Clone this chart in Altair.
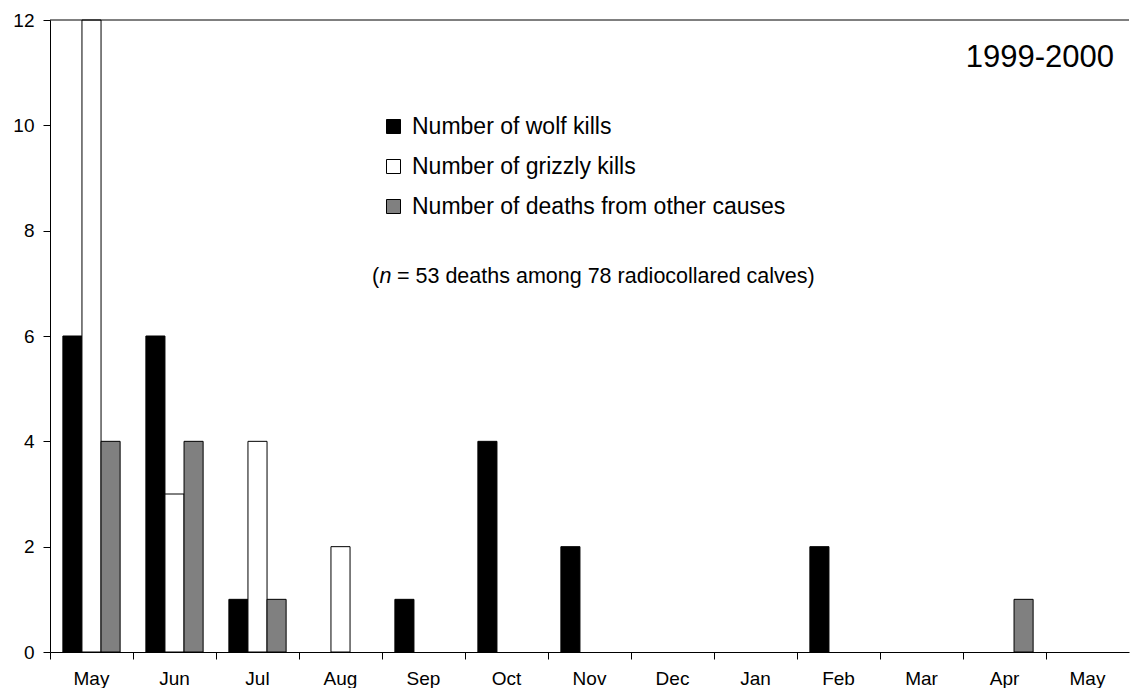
import altair as alt
import pandas as pd

months = ["May", "Jun", "Jul", "Aug", "Sep", "Oct", "Nov", "Dec", "Jan", "Feb", "Mar", "Apr", "May"]
wolf = [6, 6, 1, 0, 1, 4, 2, 0, 0, 2, 0, 0, 0]
grizzly = [12, 3, 4, 2, 0, 0, 0, 0, 0, 0, 0, 0, 0]
other = [4, 4, 1, 0, 0, 0, 0, 0, 0, 0, 0, 1, 0]
series = ["Number of wolf kills", "Number of grizzly kills", "Number of deaths from other causes"]
colors = ["#000000", "#ffffff", "#808080"]
y_ticks = [0, 2, 4, 6, 8, 10, 12]
period = "1999-2000"
note_open = "("
note_n = "n"
note_rest = "= 53 deaths among 78 radiocollared calves)"

FONT = "Liberation Sans"
W = 1079
H = 632

keys = [f"{i:02d}{m}" for i, m in enumerate(months)]
rows = []
for s, vals in zip(series, [wolf, grizzly, other]):
    for k, v in zip(keys, vals):
        if v > 0:
            rows.append({"month": k, "series": s, "count": v})
df = pd.DataFrame(rows)

bars = alt.Chart(df).mark_bar(stroke="black", strokeWidth=1).encode(
    x=alt.X(
        "month:N",
        sort=keys,
        scale=alt.Scale(domain=keys, paddingInner=0, paddingOuter=0),
        axis=alt.Axis(
            title=None,
            labelExpr="slice(datum.value, 2)",
            bandPosition=0,
            tickSize=7,
            labelPadding=10,
            labelFontSize=19,
            labelAngle=0,
        ),
    ),
    xOffset=alt.XOffset(
        "series:N",
        scale=alt.Scale(domain=series, paddingInner=0, paddingOuter=0.675),
    ),
    y=alt.Y(
        "count:Q",
        scale=alt.Scale(domain=[0, 12], nice=False),
        axis=alt.Axis(
            title=None,
            values=y_ticks,
            tickSize=7,
            labelPadding=9,
            labelFontSize=19,
        ),
    ),
    fill=alt.Fill(
        "series:N",
        scale=alt.Scale(domain=series, range=colors),
        legend=alt.Legend(
            orient="none",
            legendX=332,
            legendY=95,
            title=None,
            symbolType="square",
            symbolSize=196,
            symbolStrokeColor="black",
            symbolStrokeWidth=1,
            labelFont=FONT,
            labelFontSize=23,
            labelColor="black",
            labelLimit=600,
            labelOffset=7,
            rowPadding=16,
        ),
    ),
)

top_rule = alt.Chart(pd.DataFrame({"v": [0]})).mark_rule(color="black", strokeWidth=1).encode(
    y=alt.value(0), x=alt.value(0), x2=alt.value(W)
)

title_txt = alt.Chart(pd.DataFrame({"t": [period]})).mark_text(
    align="right", baseline="alphabetic", fontSize=31, font=FONT, color="black"
).encode(x=alt.value(1064), y=alt.value(47), text="t:N")

note_a = alt.Chart(pd.DataFrame({"t": [note_open]})).mark_text(
    align="left", baseline="alphabetic", fontSize=21.5, font=FONT, color="black"
).encode(x=alt.value(322), y=alt.value(263), text="t:N")

note_b = alt.Chart(pd.DataFrame({"t": [note_n]})).mark_text(
    align="left", baseline="alphabetic", fontSize=21.5, font=FONT, fontStyle="italic", color="black"
).encode(x=alt.value(329.5), y=alt.value(263), text="t:N")

note_c = alt.Chart(pd.DataFrame({"t": [note_rest]})).mark_text(
    align="left", baseline="alphabetic", fontSize=21.5, font=FONT, color="black"
).encode(x=alt.value(347), y=alt.value(263), text="t:N")

chart = alt.layer(bars, top_rule, title_txt, note_a, note_b, note_c).properties(
    width=W,
    height=H,
    padding={"left": 4, "top": 3, "right": 2, "bottom": 0},
    background="white",
).configure_view(stroke=None).configure_axis(
    labelFont=FONT,
    labelColor="black",
    domainColor="black",
    tickColor="black",
    grid=False,
)

chart.save("out.html", embed_options={"renderer": "svg", "actions": False})
